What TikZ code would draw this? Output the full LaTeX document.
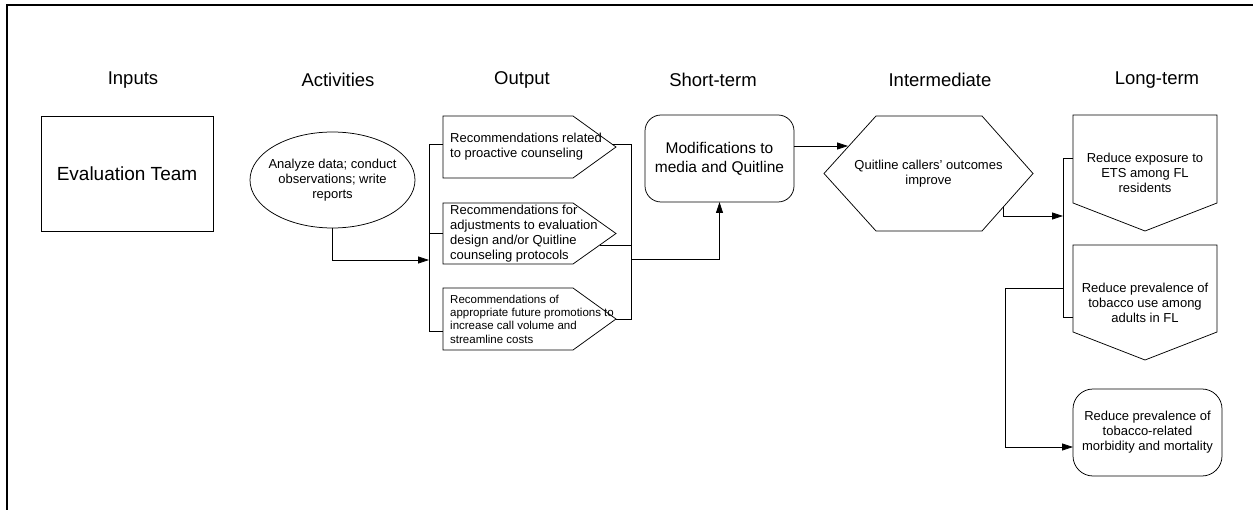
\documentclass[tikz,border=0pt]{standalone}
\usepackage{fontspec}
\setmainfont{Liberation Sans}
\usetikzlibrary{arrows.meta,shapes.geometric,calc}
\tikzset{
  ln/.style={draw=black, line width=0.75pt},
  arr/.style={ln, -{Triangle[length=11pt,width=7pt]}},
  hdr/.style={font=\fontsize{18.5}{22}\selectfont, inner sep=0pt},
  txt/.style={font=\fontsize{13}{15}\selectfont, align=center, inner sep=0pt},
  txtl/.style={font=\fontsize{13}{15}\selectfont, align=left, inner sep=0pt, anchor=west},
  txts/.style={font=\fontsize{11.5}{13.3}\selectfont, align=left, inner sep=0pt, anchor=west},
  bbox/.style={inner sep=0pt, outer sep=0pt},
}
\begin{document}
\begin{tikzpicture}[x=1pt,y=-1pt]
\useasboundingbox (0,0) rectangle (1253,510);
% frame
\draw[line width=2pt] (6.5,511) -- (6.5,5) -- (1254,5);

% headers
\node[hdr] (h1) at (133,80) {Inputs};
\node[hdr] (h2) at (338,80) {Activities};
\node[hdr] (h3) at (522,80) {Output};
\node[hdr] (h4) at (713,80) {Short-term};
\node[hdr] (h5) at (940,80) {Intermediate};
\node[hdr] (h6) at (1157,80) {Long-term};

% inputs
\node[ln, bbox, minimum width=172pt, minimum height=115pt, font=\fontsize{19}{22}\selectfont] (eval) at (127,173.5) {Evaluation Team};

% activities
\node[ln, ellipse, bbox, minimum width=165pt, minimum height=96pt] (act) at (332.5,180) {};
\node[txt] (acttxt) at (332.5,180) {Analyze data; conduct\\observations; write\\reports};

% outputs
\node[bbox, minimum width=173pt, minimum height=62pt] (o1) at (529.5,147) {};
\node[bbox, minimum width=173pt, minimum height=61pt] (o2) at (529.5,233.5) {};
\node[bbox, minimum width=173pt, minimum height=62pt] (o3) at (529.5,319) {};
\foreach \o in {o1,o2,o3}{
  \draw[ln] (\o.north west) -- ([xshift=-43pt]\o.north east) -- (\o.east)
     -- ([xshift=-43pt]\o.south east) -- (\o.south west) -- cycle;
}
\node[txtl] (o1t) at ([xshift=7pt]o1.west) {Recommendations related\\to proactive counseling};
\node[txtl] (o2t) at ([xshift=7pt]o2.west) {Recommendations for\\adjustments to evaluation\\design and/or Quitline\\counseling protocols};
\node[txts] (o3t) at ([xshift=7pt]o3.west) {Recommendations of\\appropriate future promotions to\\increase call volume and\\streamline costs};

% left bus of outputs
\coordinate (bl1) at ($(o1.west)+(-14,-3)$);
\coordinate (bl3) at ($(o3.west)+(-14,12)$);
\coordinate (blin) at ($(o1.west)+(-14,113)$);
\draw[ln] ([yshift=3pt]o1.west) -- (bl1) -- (bl3) -- ([yshift=-12pt]o3.west);
\draw[ln] (o2.west -| bl1) -- (o2.west);
\draw[arr] (act.south) |- (blin);

% right bus of outputs
\coordinate (br1) at ($(o1.east)+(15,-3)$);
\coordinate (br3) at ($(o3.east)+(15,0)$);
\coordinate (brout) at ($(o1.east)+(15,112)$);
\draw[ln] ([xshift=-4pt,yshift=3pt]o1.east) -- (br1) -- (br3) -- (o3.east);
\draw[ln] ([xshift=-16pt,yshift=-11.5pt]o2.east) -- ([yshift=-11.5pt]o2.east -| br1);

% short-term
\node[ln, rounded corners=16pt, bbox, minimum width=149pt, minimum height=87pt, align=center, font=\fontsize{15.5}{19}\selectfont] (mod) at (719.5,158.5) {Modifications to\\media and Quitline};
\draw[arr] (brout) -| (mod.south);

% intermediate
\node[bbox, minimum width=209pt, minimum height=115pt] (hex) at (928.5,173.5) {};
\draw[ln] (hex.west) -- ([xshift=52pt]hex.north west) -- ([xshift=-51pt]hex.north east)
   -- (hex.east) -- ([xshift=-51pt]hex.south east) -- ([xshift=52pt]hex.south west) -- cycle;
\node[txt] (hext) at (928.5,173.5) {Quitline callers’ outcomes\\improve};
\coordinate (hexin) at ($(hex.west)+(24,-27.5)$);
\draw[arr] (mod.east |- hexin) -- (hexin);

% long-term
\node[bbox, minimum width=144pt, minimum height=116pt] (lt1) at (1145,173) {};
\node[bbox, minimum width=144pt, minimum height=115pt] (lt2) at (1145,302.5) {};
\foreach \o in {lt1,lt2}{
  \draw[ln] (\o.north west) -- (\o.north east) -- ([yshift=28pt]\o.south east)
     -- (\o.south) -- ([yshift=28pt]\o.south west) -- cycle;
}
\node[txt] (lt1t) at (lt1) {Reduce exposure to\\ETS among FL\\residents};
\node[txt] (lt2t) at (lt2) {Reduce prevalence of\\tobacco use among\\adults in FL};
\node[ln, rounded corners=20pt, bbox, minimum width=149pt, minimum height=87pt] (lt3) at (1147.5,432.5) {};
\node[txt] (lt3t) at (lt3) {Reduce prevalence of\\tobacco-related\\morbidity and mortality};

% long-term bus
\coordinate (hexout) at ($(hex.east)+(-30,33.8)$);
\coordinate (lb1) at ($(lt1.north west)+(-10,43)$);
\coordinate (lb2) at ($(lt2.north west)+(-10,72)$);
\coordinate (lbin) at ($(lt1.north west)+(-10,101)$);
\coordinate (lbsplit) at ($(lt2.north west)+(-10,43)$);
\coordinate (lbdown) at ($(lbsplit)+(-58,0)$);
\draw[ln] (lt1.north west |- lb1) -- (lb1) -- (lb2) -- (lt2.north west |- lb2);
\draw[arr] (hexout) |- (lbin);
\draw[arr] (lbsplit) -- (lbdown) |- ([yshift=-14.5pt]lt3.west);
\end{tikzpicture}
\end{document}
